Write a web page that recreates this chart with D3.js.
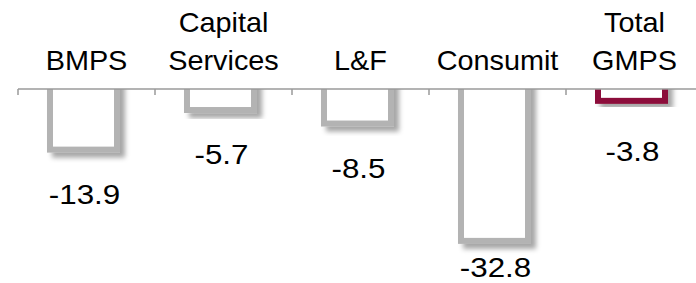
<!DOCTYPE html>
<html>
<head>
<meta charset="utf-8">
<script src="https://cdn.jsdelivr.net/npm/d3@7"></script>
<style>
  body { margin: 0; background: #fff; }
  svg { display: block; }
</style>
</head>
<body>
<script>
const categories = [["BMPS"], ["Capital", "Services"], ["L&F"], ["Consumit"], ["Total", "GMPS"]];
const values = [-13.9, -5.7, -8.5, -32.8, -3.8];
const labels = ["-13.9", "-5.7", "-8.5", "-32.8", "-3.8"];

const W = 696, H = 283;
const axisY = 89;

const svg = d3.select('body').append('svg').attr('width', W).attr('height', H);

const defs = svg.append('defs');
const f = defs.append('filter').attr('id', 'shadow')
  .attr('x', '-20%').attr('y', '-20%').attr('width', '150%').attr('height', '150%');
f.append('feDropShadow').attr('dx', 5).attr('dy', 5).attr('stdDeviation', 2.5)
  .attr('flood-color', '#000').attr('flood-opacity', 0.35);
defs.append('clipPath').attr('id', 'below')
  .append('rect').attr('x', 0).attr('y', axisY).attr('width', W).attr('height', H);

const x = d3.scaleBand().domain(d3.range(categories.length)).range([18, 703]);
const y = d3.scaleLinear().domain([0, -35]).range([82.5, 251.5]);

const barW = 67;
const colors = ['#b3b3b3', '#b3b3b3', '#b3b3b3', '#b3b3b3', '#8c0b3b'];

// bars (top edge hidden above the axis)
const bars = svg.append('g').attr('clip-path', 'url(#below)');
bars.selectAll('rect').data(values).join('rect')
  .attr('x', (d, i) => x(i) + x.bandwidth() / 2 - 3 - barW / 2)
  .attr('y', y(0))
  .attr('width', barW)
  .attr('height', d => y(d) - y(0))
  .attr('fill', '#fff')
  .attr('stroke', (d, i) => colors[i])
  .attr('stroke-width', 6)
  .attr('filter', 'url(#shadow)');

// axis line + ticks
svg.append('line').attr('x1', 18).attr('x2', W).attr('y1', axisY).attr('y2', axisY)
  .style('stroke', '#9a9a9a').style('stroke-width', 1.5);
svg.append('g').selectAll('line').data(d3.range(categories.length)).join('line')
  .attr('x1', i => x(i)).attr('x2', i => x(i))
  .attr('y1', axisY).attr('y2', axisY + 6)
  .style('stroke', '#9a9a9a').style('stroke-width', 1.5);

// category labels
const cat = svg.append('g')
  .style('font-family', '"Liberation Sans", Arial, sans-serif')
  .style('font-size', '28px').attr('fill', '#000').attr('text-anchor', 'middle');
categories.forEach((lines, i) => {
  lines.forEach((t, j) => {
    cat.append('text')
      .attr('transform', `translate(${x(i) + x.bandwidth() / 2},${70 - (lines.length - 1 - j) * 38}) scale(1.03,1)`)
      .text(t);
  });
});

// value labels
svg.append('g')
  .style('font-family', '"Liberation Sans", Arial, sans-serif')
  .style('font-size', '28px').attr('fill', '#000').attr('text-anchor', 'middle')
  .selectAll('text').data(values).join('text')
  .attr('transform', (d, i) => {
    const ly = Math.min(Math.max(y(d) + 54, 161), 277);
    return `translate(${x(i) + x.bandwidth() / 2 - 2},${ly}) scale(1.12,1)`;
  })
  .text((d, i) => labels[i]);
</script>
</body>
</html>
